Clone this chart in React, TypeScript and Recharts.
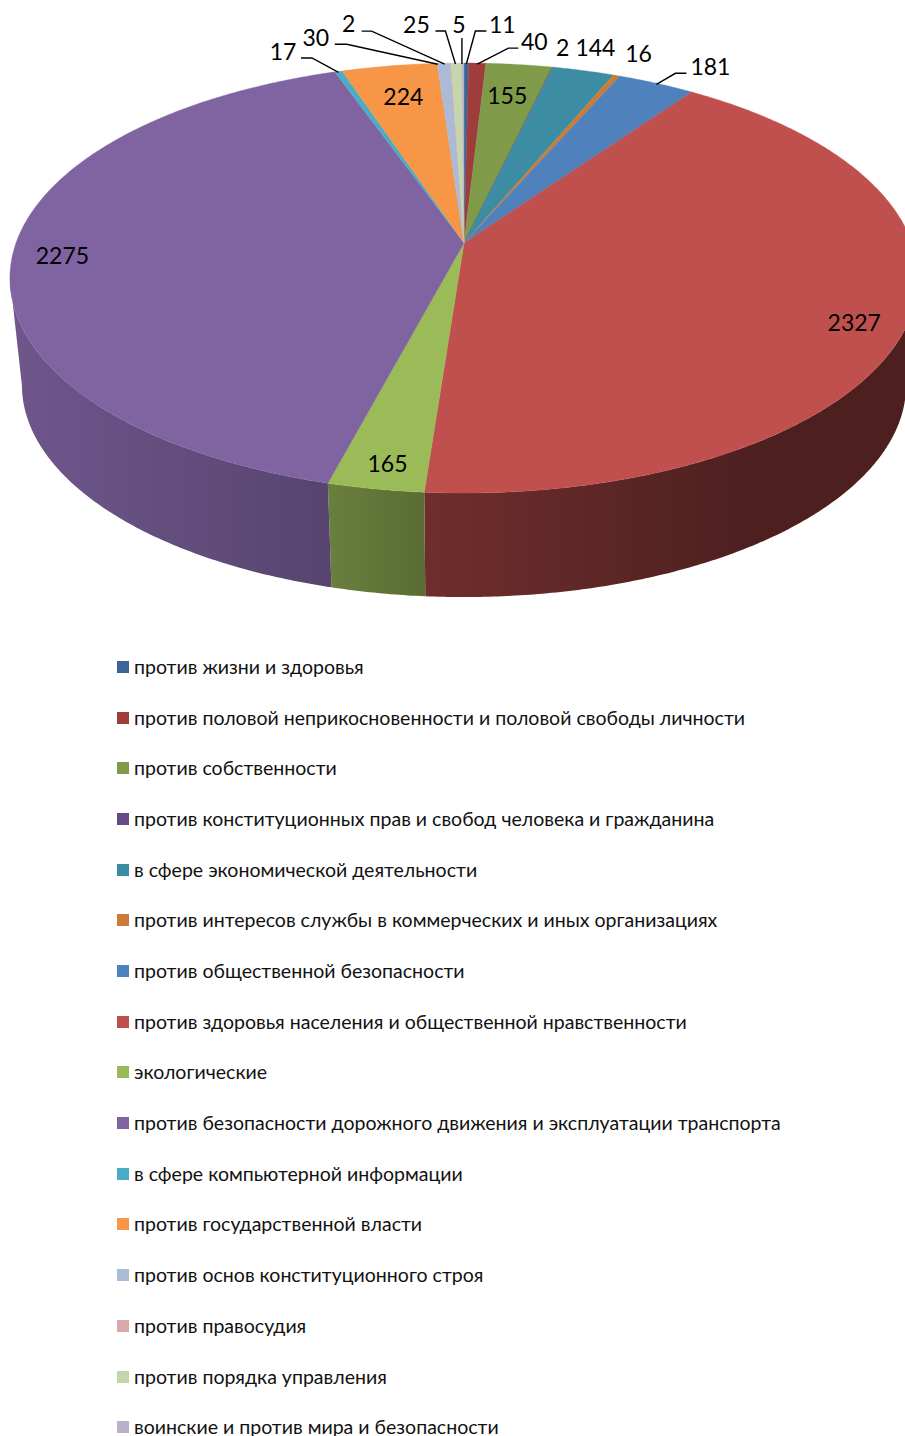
import React from "react";
import { PieChart, Pie, Legend } from "recharts";

const categories = [
  "против жизни и здоровья",
  "против половой неприкосновенности и половой свободы личности",
  "против собственности",
  "против конституционных прав и свобод человека и гражданина",
  "в сфере экономической деятельности",
  "против интересов службы в коммерческих и иных организациях",
  "против общественной безопасности",
  "против здоровья населения и общественной нравственности",
  "экологические",
  "против безопасности дорожного движения и эксплуатации транспорта",
  "в сфере компьютерной информации",
  "против государственной власти",
  "против основ конституционного строя",
  "против правосудия",
  "против порядка управления",
  "воинские и против мира и безопасности",
];
const values = [11, 40, 155, 2, 144, 16, 181, 2327, 165, 2275, 17, 224, 30, 2, 25, 5];
const sliceColors = [
  "#3A6596", "#9E3D3B", "#7F9A48", "#664A86", "#3C8DA3", "#CC7B38", "#4F81BD", "#C0504D",
  "#9BBB59", "#8064A2", "#4BACC6", "#F79646", "#AABAD7", "#D9AAA9", "#C6D6AC", "#BAB0C9",
];

// label text offset from the slice's rim point
const labelOffsets: number[][] = [
  [36, -39], [57, -22], [-12, 30], [10, -20], [12, -24], [22, -23], [54, -17], [-56, 4],
  [12, -26], [49, 4], [-55.5, -20], [14, 30], [-128, -26], [-102, -40], [-40, -39], [-4, -39],
];
// leader lines: start, elbow, end, relative to the slice's rim point
const leaders: Record<number, number[][]> = {
  0: [[0, 1], [9, -32], [20, -32]],
  1: [[0, 1], [31, -15], [41, -15]],
  6: [[0, 1], [19, -10], [30, -10]],
  10: [[0, 1], [-26.5, -13.4], [-37.5, -13.4]],
  12: [[-6, 1], [-97, -19], [-109, -19]],
  13: [[-6, 1], [-79, -32], [-89, -32]],
  14: [[-1, 1], [-11, -32], [-21, -32]],
  15: [[-1, 1], [-1, -25], [-1, -25]],
};

const FONT = "Lato, 'Open Sans', sans-serif";
const W = 905;
const H = 1436;
const CX = 464;
const CY = 243;
const RADIUS = 448;
const P = 0.163; // perspective
const SQUASH = 0.4672;
const WALL_SCALE = 0.9736;
const WALL_SQUASH = 0.4607;
const WALL_DROP = 107.5;
const VIS_A = 99.4;
const VIS_B = 260.6;

const tableData = categories.map((name, i) => ({ name, value: values[i], fill: sliceColors[i] }));

const project = (theta: number, cx: number, cy: number, r: number) => {
  const t = (theta * Math.PI) / 180;
  const u = Math.sin(t);
  const v = Math.cos(t);
  const d = 1 + P * v;
  return [cx + (r * u) / d, cy - (r * SQUASH * v) / d];
};
const projectWall = (theta: number, cx: number, cy: number, r: number) => {
  const t = (theta * Math.PI) / 180;
  const u = Math.sin(t);
  const v = Math.cos(t);
  const d = 1 + P * v;
  const rr = r * WALL_SCALE;
  return [cx + (rr * u) / d, cy + WALL_DROP - (r * WALL_SQUASH * v) / d];
};
const arc = (a: number, b: number, f: (t: number) => number[]) => {
  const n = Math.max(2, Math.ceil((b - a) * 2));
  const pts: number[][] = [];
  for (let i = 0; i <= n; i++) pts.push(f(a + ((b - a) * i) / n));
  return pts;
};
const toPath = (pts: number[][]) =>
  "M" + pts.map((p) => p[0].toFixed(2) + " " + p[1].toFixed(2)).join("L") + "Z";

const TopSlice = (props: any) => {
  const { cx, cy, outerRadius, startAngle, endAngle, fill } = props;
  const a = 90 - startAngle;
  const b = 90 - endAngle;
  const pts = [[cx, cy], ...arc(a, b, (t) => project(t, cx, cy, outerRadius))];
  return <path d={toPath(pts)} fill={fill} stroke={fill} strokeWidth={0.4} />;
};

const shadeAt = (x: number) => {
  const stops = [[0, 0.88], [22, 0.86], [330, 0.68], [425, 0.58], [750, 0.4], [905, 0.4]];
  for (let i = 1; i < stops.length; i++) {
    if (x <= stops[i][0]) {
      const k = (x - stops[i - 1][0]) / (stops[i][0] - stops[i - 1][0]);
      return stops[i - 1][1] + k * (stops[i][1] - stops[i - 1][1]);
    }
  }
  return 0.4;
};
const shadeColor = (hex: string, f: number) => {
  const n = parseInt(hex.slice(1), 16);
  const c = [(n >> 16) & 255, (n >> 8) & 255, n & 255].map((v) => Math.round(v * f));
  return `rgb(${c[0]},${c[1]},${c[2]})`;
};

const WallSlice = (props: any) => {
  const { cx, cy, outerRadius, startAngle, endAngle, fill, index } = props;
  const a = Math.max(90 - startAngle, VIS_A);
  const b = Math.min(90 - endAngle, VIS_B);
  if (b <= a) return <g />;
  const top = arc(a, b, (t) => project(t, cx, cy, outerRadius));
  const bottom = arc(a, b, (t) => projectWall(t, cx, cy, outerRadius)).reverse();
  const id = "wall" + index;
  const xs = [0, 22, 330, 425, 750, 905];
  return (
    <g>
      <defs>
        <linearGradient id={id} gradientUnits="userSpaceOnUse" x1={0} x2={W} y1={0} y2={0}>
          {xs.map((x) => (
            <stop key={x} offset={x / W} stopColor={shadeColor(fill, shadeAt(x))} />
          ))}
        </linearGradient>
      </defs>
      <path d={toPath([...top, ...bottom])} fill={`url(#${id})`} />
    </g>
  );
};

const SliceLabel = (props: any) => {
  const { cx, cy, outerRadius, midAngle, index, value } = props;
  const [ax, ay] = project(90 - midAngle, cx, cy, outerRadius);
  const off = labelOffsets[index];
  const lead = leaders[index];
  return (
    <g>
      {lead && (
        <polyline
          points={lead.map((p) => `${ax + p[0]},${ay + p[1]}`).join(" ")}
          fill="none"
          stroke="#000"
          strokeWidth={1.4}
        />
      )}
      <text
        x={ax + off[0]}
        y={ay + off[1]}
        textAnchor="middle"
        dominantBaseline="central"
        fontFamily={FONT}
        fontSize={23}
        fill="#000"
      >
        {value}
      </text>
    </g>
  );
};

const LegendContent = ({ payload }: any) => {
  const items = categories
    .map((c) => (payload || []).find((it: any) => it.value === c))
    .filter(Boolean);
  return (
    <div style={{ position: "relative", width: W, height: H }}>
      {items.map((item: any, i: number) => (
        <div
          key={item.value}
          style={{
            position: "absolute",
            left: 117,
            top: 667 + i * 50.68 - 15,
            height: 30,
            lineHeight: "30px",
            whiteSpace: "nowrap",
            fontFamily: FONT,
            fontSize: 19.55,
            color: "#111",
          }}
        >
          <span
            style={{
              position: "absolute",
              left: 0,
              top: 9,
              width: 12,
              height: 12,
              background: item.color,
            }}
          />
          <span style={{ position: "absolute", left: 17 }}>{item.value}</span>
        </div>
      ))}
    </div>
  );
};

export default function App() {
  const common = {
    data: tableData,
    dataKey: "value",
    nameKey: "name",
    cx: CX,
    cy: CY,
    innerRadius: 0,
    outerRadius: RADIUS,
    startAngle: 90,
    endAngle: -270,
    paddingAngle: 0,
    stroke: "none",
    isAnimationActive: false,
    rootTabIndex: -1,
  };
  return (
    <div style={{ position: "fixed", left: 0, top: 0, width: W, height: H, overflow: "hidden", background: "#fff" }}>
      <PieChart width={W} height={H} margin={{ top: 0, right: 0, bottom: 0, left: 0 }}>
        <Pie {...common} legendType="none" shape={WallSlice} labelLine={false} label={false} />
        <Pie {...common} shape={TopSlice} labelLine={false} label={SliceLabel} />
        <Legend
          content={LegendContent}
          itemSorter={null}
          wrapperStyle={{ position: "absolute", left: 0, top: 0, width: W, height: H, pointerEvents: "none" }}
        />
      </PieChart>
    </div>
  );
}
